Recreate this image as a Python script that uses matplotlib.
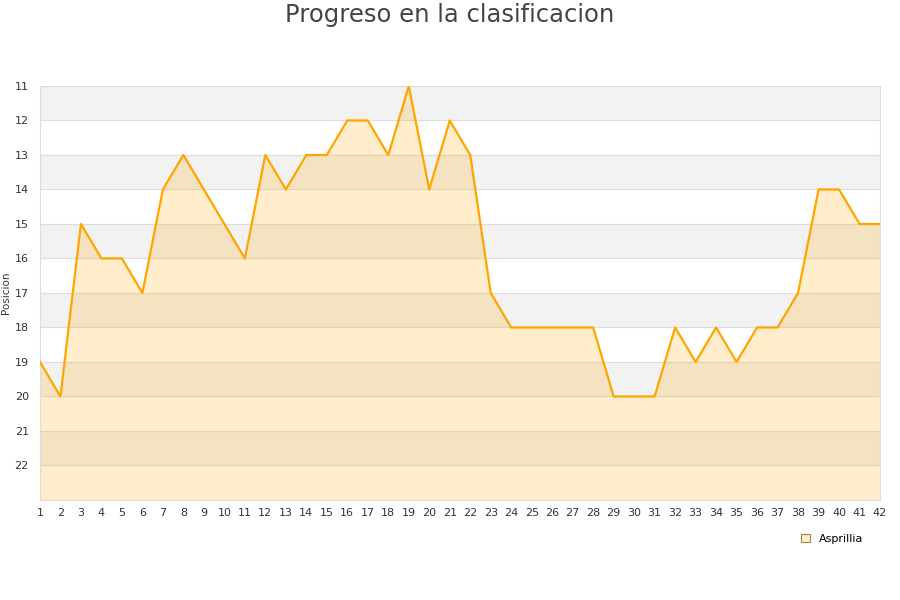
import matplotlib
matplotlib.use("Agg")
import matplotlib.pyplot as plt
from matplotlib.patches import Patch

# Jornadas y posiciones
jornadas = list(range(1, 43))
posiciones = [19, 20, 15, 16, 16, 17, 14, 13, 14, 15, 16, 13, 14, 13, 13, 12, 12, 13, 11, 14, 12,
              13, 17, 18, 18, 18, 18, 18, 20, 20, 20, 18, 19, 18, 19, 18, 18, 17, 14, 14, 15, 15]
equipo = "Asprillia"
titulo = "Progreso en la clasificacion"

fig = plt.figure(figsize=(9, 6), dpi=100)
ax = fig.add_axes([0.0444, 0.1667, 0.9334, 0.69])

y_min, y_max = 11, 23
# bandas alternas
for v in range(y_min, y_max):
    if (v - y_min) % 2 == 0:
        ax.axhspan(v, v + 1, color='#f2f2f2', zorder=0, lw=0)
for v in range(y_min, y_max + 1):
    ax.axhline(v, color='#dddddd', lw=0.8, zorder=1)

ax.fill_between(jornadas, posiciones, y_max, color='#ffa500', alpha=0.2, lw=0, zorder=2)
ax.plot(jornadas, posiciones, color='#ffa500', lw=1.6, zorder=3)

ax.set_xlim(1, 42)
ax.set_ylim(y_max, y_min)
ax.set_xticks(jornadas)
ax.set_yticks(range(11, 23))
ax.tick_params(axis='both', length=0, labelsize=8, colors='#333333', pad=6)
ax.tick_params(axis='y', pad=8)
for s in ax.spines.values():
    s.set_color('#dddddd')
ax.set_ylabel('Posicion', fontsize=7.5, color='#333333')
ax.yaxis.set_label_coords(-0.034, 0.5)

fig.suptitle(titulo, fontsize=17.5, color='#444444', y=0.995)

handle = Patch(facecolor='#ffedcc', edgecolor='#a08050', lw=0.8)
fig.legend([handle], [equipo], loc='center', bbox_to_anchor=(0.925, 0.102),
           frameon=False, fontsize=8, handlelength=0.8, handleheight=0.8)

fig.savefig('out.png', dpi=100)
